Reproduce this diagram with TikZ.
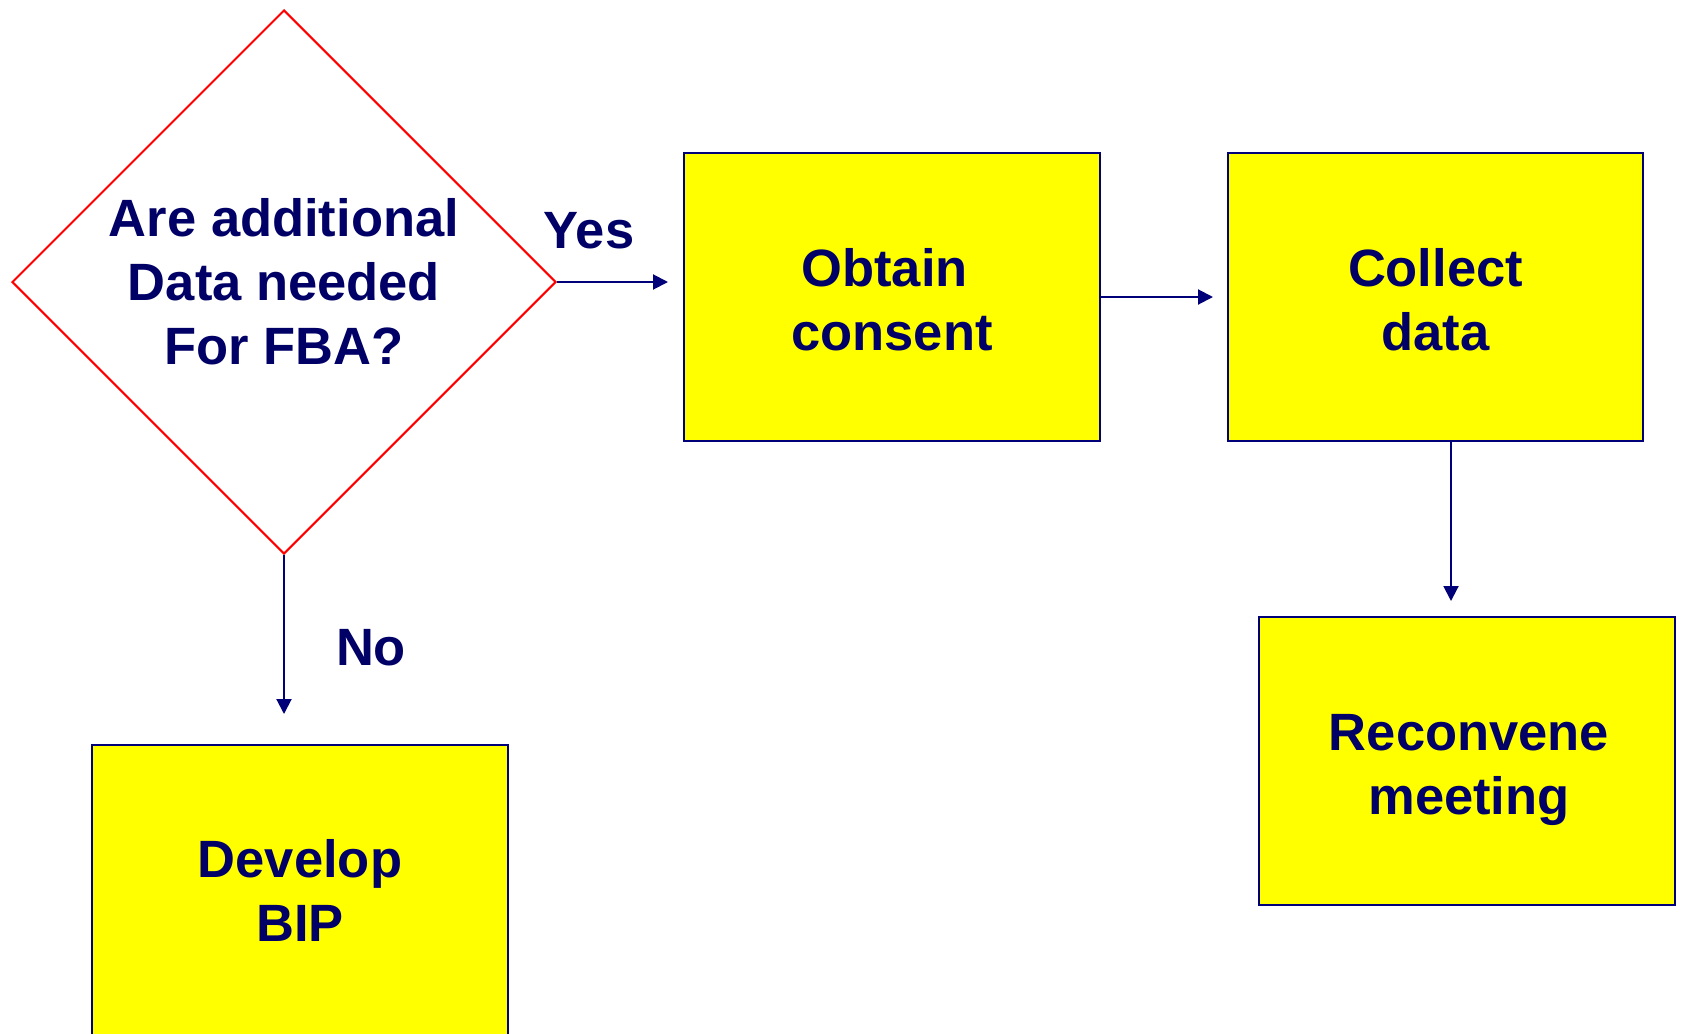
\documentclass[tikz,border=0pt]{standalone}
\usepackage{fontspec}
\setmainfont{Liberation Sans}
\usetikzlibrary{shapes.geometric,arrows.meta}
\definecolor{navytext}{RGB}{0,0,102}
\definecolor{navyline}{RGB}{0,0,120}
\definecolor{boxyellow}{RGB}{255,255,0}
\definecolor{decred}{RGB}{255,0,0}
\begin{document}
\begin{tikzpicture}[x=1pt,y=-1pt,
  lbl/.style={font=\bfseries\fontsize{52.5}{64}\selectfont, text=navytext, align=center},
  stepbox/.style={draw=navyline, line width=2.5pt, fill=boxyellow, rectangle, minimum width=416pt, minimum height=288pt, inner sep=0pt},
  decision/.style={lbl, diamond, draw=decred, line width=2pt, minimum width=544pt, minimum height=544pt, inner sep=0pt},
  flow/.style={draw=navyline, line width=2pt, -{Triangle[length=15pt,width=15pt]}}]
\useasboundingbox (0,0) rectangle (1683,1033);
\fill[white] (0,0) rectangle (1683,1033);
\node[decision] (q) at (284,282) {Are additional\\Data needed\\For FBA?};
\node[stepbox] (obtain) at (892,297) {};
\node[lbl] (obtainText) at (892,300) {Obtain\hspace*{0.278em}\\consent};
\node[stepbox, minimum width=415pt] (collect) at (1435.5,297) {};
\node[lbl] (collectText) at (1435.5,300) {Collect\\data};
\node[stepbox] (reconvene) at (1467,761) {};
\node[lbl] (reconveneText) at (1469,770) {Reconvene\\meeting};
\node[stepbox, minimum height=290pt] (develop) at (300,890) {};
\node[lbl] (developText) at (300,890) {Develop\\BIP};
\node[lbl, anchor=base] (yes) at (589,248) {Yes};
\node[lbl, anchor=base] (no) at (371,665) {No};
\coordinate (yesEnd) at (668,282);
\coordinate (c1End) at (1213,297);
\coordinate (c2End) at (1451,601);
\coordinate (noEnd) at (284,714);
\draw[flow] (q.east) -- (yesEnd);
\draw[flow] (obtain.east) -- (c1End);
\draw[flow] (c2End |- collect.south) -- (c2End);
\draw[flow] (q.south) -- (noEnd);
\end{tikzpicture}
\end{document}
